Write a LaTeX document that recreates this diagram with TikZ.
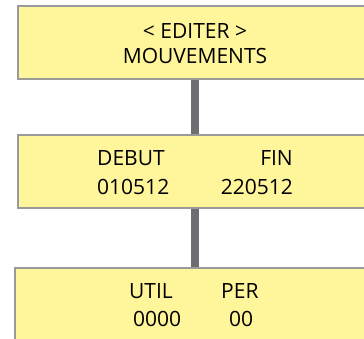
\documentclass[tikz,border=0pt]{standalone}
\usepackage{fontspec}
\setmainfont{Open Sans}
\definecolor{boxfill}{HTML}{FFF59B}
\definecolor{boxline}{HTML}{9A9A9A}
\definecolor{connline}{HTML}{6D6E71}
\begin{document}
\begin{tikzpicture}[x=1pt,y=-1pt,
  box/.style={draw=boxline, line width=2pt, fill=boxfill, anchor=north west, inner sep=0pt, minimum width=366pt},
  conn/.style={draw=connline, line width=8pt},
  txt/.style={font=\fontsize{21}{21}\selectfont, inner sep=0pt}]
\useasboundingbox (0,0) rectangle (364,338);
\coordinate (axis) at (195,0);
\node[box, minimum height=73pt] (b1) at (17,5) {};
\node[box, minimum height=73pt] (b2) at (17,134) {};
\node[box, minimum height=80pt] (b3) at (14,267) {};
\draw[conn] (axis |- b1.south) -- (axis |- b2.north);
\draw[conn] (axis |- b2.south) -- (axis |- b3.north);
\node[txt, anchor=base] (t1) at (195,38) {< EDITER >};
\node[txt, anchor=base] (t2) at (195,63) {MOUVEMENTS};
\node[txt, anchor=base west] (t3) at (97,165) {DEBUT};
\node[txt, anchor=base east] (t4) at (293,165) {FIN};
\node[txt, anchor=base west] (t5) at (97,194) {010512};
\node[txt, anchor=base east] (t6) at (293,194) {220512};
\node[txt, anchor=base west] (t7) at (129,298) {UTIL};
\node[txt, anchor=base west] (t8) at (221,298) {PER};
\node[txt, anchor=base west] (t9) at (133,326) {0000};
\node[txt, anchor=base west] (t10) at (229,326) {00};
\end{tikzpicture}
\end{document}
